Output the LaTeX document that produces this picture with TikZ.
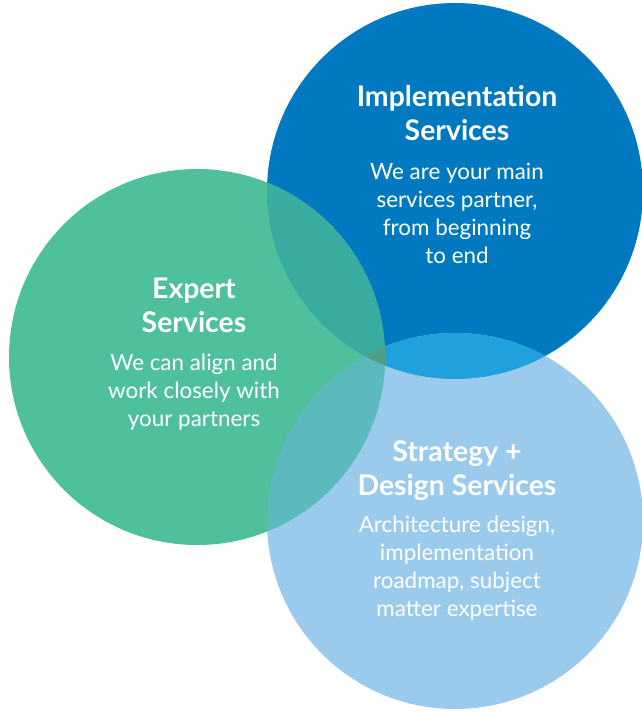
\documentclass[tikz,border=0pt]{standalone}
\usepackage{fontspec}
\setmainfont{Lato}
\usetikzlibrary{positioning}
\definecolor{implblue}{HTML}{0079C1}
\definecolor{expgreen}{HTML}{4EC09B}
\definecolor{stratblue}{HTML}{9BCBEC}
\definecolor{mixig}{HTML}{3AAB9F}
\definecolor{mixis}{HTML}{20A0DC}
\definecolor{mixgs}{HTML}{5CB9BE}
\definecolor{mixall}{HTML}{4F9F86}

\begin{document}
\begin{tikzpicture}[
  x=0.75pt, y=-0.75pt,
  title/.style={text=white, align=center, font=\fontsize{21.3}{25.5}\selectfont\bfseries},
  blurb/.style={text=white, align=center, font=\fontsize{16.8}{21}\selectfont},
  ring/.style={radius=141pt}
]
  \useasboundingbox (0,0) rectangle (641,712);
  \coordinate (impl) at (455,191);
  \coordinate (expert) at (197,357);
  \coordinate (strat) at (455,521);

  % discs
  \fill[implblue] (impl) circle[ring];
  \fill[stratblue] (strat) circle[ring];
  \fill[expgreen] (expert) circle[ring];

  % pairwise overlaps
  \begin{scope}
    \clip (impl) circle[ring];
    \fill[mixig] (expert) circle[ring];
    \fill[mixis] (strat) circle[ring];
  \end{scope}
  \begin{scope}
    \clip (expert) circle[ring];
    \fill[mixgs] (strat) circle[ring];
    \clip (strat) circle[ring];
    \fill[mixall] (impl) circle[ring];
  \end{scope}

  % texts
  \node[title] (impltitle) at (457,113) {Implementation\\Services};
  \node[blurb] (impltext) at (457,213) {We are your main\\services partner,\\from beginning\\to end};
  \node[title] (exptitle) at (194,305) {Expert\\Services};
  \node[blurb] (exptext) at (194,392) {We can align and\\work closely with\\your partners};
  \node[title] (strattitle) at (457,470.5) {Strategy +\\Design Services};
  \node[blurb] (strattext) at (457,568.5) {Architecture design,\\implementation\\roadmap, subject\\matter expertise};
\end{tikzpicture}
\end{document}
